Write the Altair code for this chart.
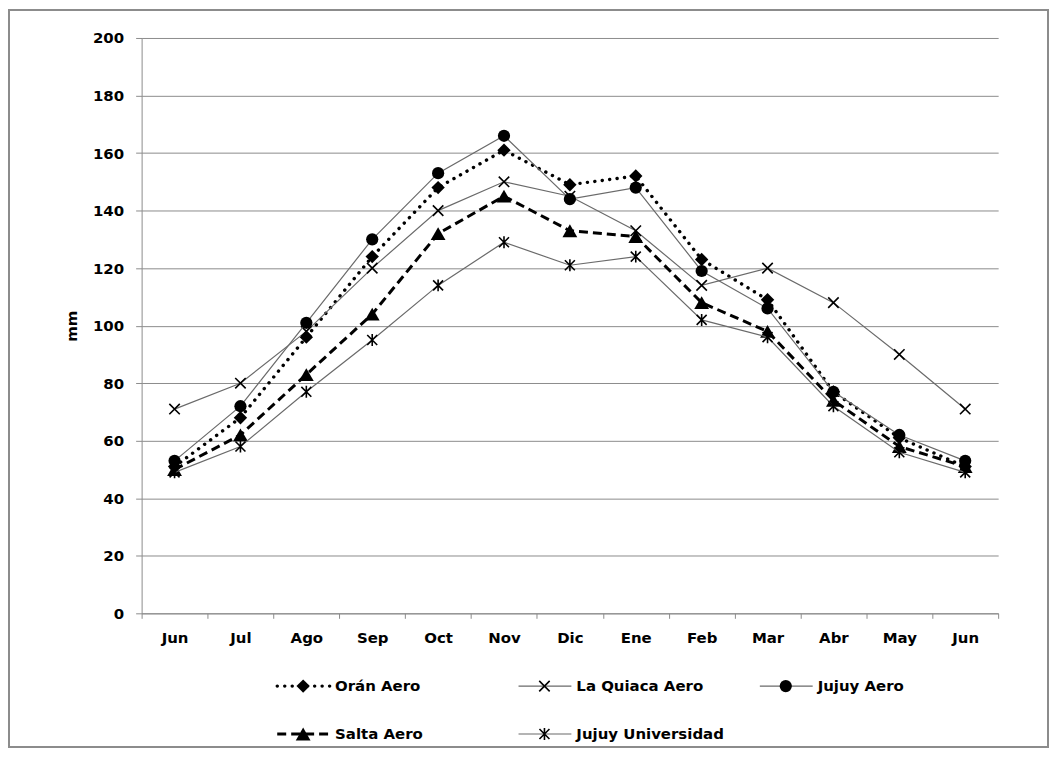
import json
import altair as alt
import pandas as pd

# ---------------- data ----------------
months = ["Jun", "Jul", "Ago", "Sep", "Oct", "Nov", "Dic", "Ene", "Feb", "Mar", "Abr", "May", "Jun"]
series_names = ["Orán Aero", "La Quiaca Aero", "Jujuy Aero", "Salta Aero", "Jujuy Universidad"]

oran = [51, 68, 96, 124, 148, 161, 149, 152, 123, 109, 77, 61, 51]
la_quiaca = [71, 80, 98, 120, 140, 150, 145, 133, 114, 120, 108, 90, 71]
jujuy_aero = [53, 72, 101, 130, 153, 166, 144, 148, 119, 106, 77, 62, 53]
salta = [50, 62, 83, 104, 132, 145, 133, 131, 108, 98, 74, 58, 51]
jujuy_univ = [49, 58, 77, 95, 114, 129, 121, 124, 102, 96, 72, 56, 49]

values_by_series = [oran, la_quiaca, jujuy_aero, salta, jujuy_univ]

rows = []
for name, vals in zip(series_names, values_by_series):
    for i, v in enumerate(vals):
        rows.append({"serie": name, "idx": i, "mm": v})
df = pd.DataFrame(rows)

legend_df = pd.DataFrame({
    "serie": series_names,
    "col": [i % 3 for i in range(len(series_names))],
    "row": [i // 3 for i in range(len(series_names))],
})

# ---------------- styles ----------------
FONT = "DejaVu Sans"
GRID = "#8c8c8c"
LINE_GRAY = "#6a6a6a"
X_PATH = "M-1,-1L1,1M1,-1L-1,1"
AST_PATH = "M-1,-1L1,1M1,-1L-1,1M0,-1.2L0,1.2"

styles = {
    "Orán Aero": dict(
        line=dict(color="black", strokeWidth=3.4, strokeDash=[0.1, 7.4], strokeCap="round"),
        point=dict(shape="diamond", filled=True, size=180),
    ),
    "La Quiaca Aero": dict(
        line=dict(color=LINE_GRAY, strokeWidth=1.2),
        point=dict(shape=X_PATH, filled=False, size=110, strokeWidth=1.6),
    ),
    "Jujuy Aero": dict(
        line=dict(color=LINE_GRAY, strokeWidth=1.2),
        point=dict(shape="circle", filled=True, size=150),
    ),
    "Salta Aero": dict(
        line=dict(color="black", strokeWidth=3, strokeDash=[9, 5]),
        point=dict(shape="triangle-up", filled=True, size=220),
    ),
    "Jujuy Universidad": dict(
        line=dict(color=LINE_GRAY, strokeWidth=1.2),
        point=dict(shape=AST_PATH, filled=False, size=100, strokeWidth=1.6),
    ),
}

# ---------------- main plot ----------------
x_enc = alt.X(
    "idx:O",
    scale=alt.Scale(type="band", paddingInner=0, paddingOuter=0),
    axis=alt.Axis(
        title=None,
        labelExpr=f"{json.dumps(months)}[datum.value]",
        tickBand="extent",
        grid=False,
        labelAngle=0,
        tickSize=5,
        labelPadding=12,
    ),
)
y_enc = alt.Y(
    "mm:Q",
    scale=alt.Scale(domain=[0, 200], nice=False),
    axis=alt.Axis(
        values=list(range(0, 201, 20)),
        title="mm",
        tickSize=6,
        labelPadding=12,
        titlePadding=13,
    ),
)

main_layers = []
for name in series_names:
    st = styles[name]
    base = alt.Chart(df).transform_filter(alt.datum.serie == name)
    main_layers.append(base.mark_line(**st["line"]).encode(x=x_enc, y=y_enc))
    main_layers.append(
        base.mark_point(color="black", opacity=1, **st["point"]).encode(x=x_enc, y=y_enc)
    )
main = alt.layer(*main_layers)

# ---------------- legend ----------------
lx = alt.X("col:Q", scale=alt.Scale(domain=[0, 2], range=[162, 646]), axis=None)
ly = alt.Y("row:Q", scale=alt.Scale(domain=[0, 1], range=[650, 698]), axis=None)

frame = alt.Chart(pd.DataFrame({"k": [0]})).mark_rect(
    fillOpacity=0, stroke=GRID, strokeWidth=2
).encode(x=alt.value(-133), x2=alt.value(909), y=alt.value(-28), y2=alt.value(711))

legend_layers = [frame]
for name in series_names:
    st = styles[name]
    base = alt.Chart(legend_df).transform_filter(alt.datum.serie == name)
    legend_layers.append(
        base.mark_rule(xOffset=-26, x2Offset=27, **st["line"]).encode(x=lx, x2=alt.X2("col"), y=ly)
    )
    legend_layers.append(
        base.mark_point(color="black", opacity=1, **st["point"]).encode(x=lx, y=ly)
    )
    legend_layers.append(
        base.mark_text(
            align="left", baseline="middle", dx=32, font=FONT, fontSize=15,
            fontWeight="bold", color="black",
        ).encode(x=lx, y=ly, text="serie:N")
    )
legend = alt.layer(*legend_layers)

chart = (
    alt.layer(main, legend)
    .resolve_scale(x="independent", y="independent")
    .properties(width=859, height=577, padding=0, background="white")
    .configure_view(stroke=None)
    .configure_axis(
        domainColor=GRID,
        tickColor=GRID,
        gridColor=GRID,
        gridWidth=1,
        labelFont=FONT,
        labelFontSize=15,
        labelFontWeight="bold",
        labelColor="black",
        titleFont=FONT,
        titleFontSize=15,
        titleFontWeight="bold",
        titleColor="black",
    )
)

chart.save("out.html", embed_options={"renderer": "svg", "actions": False})
